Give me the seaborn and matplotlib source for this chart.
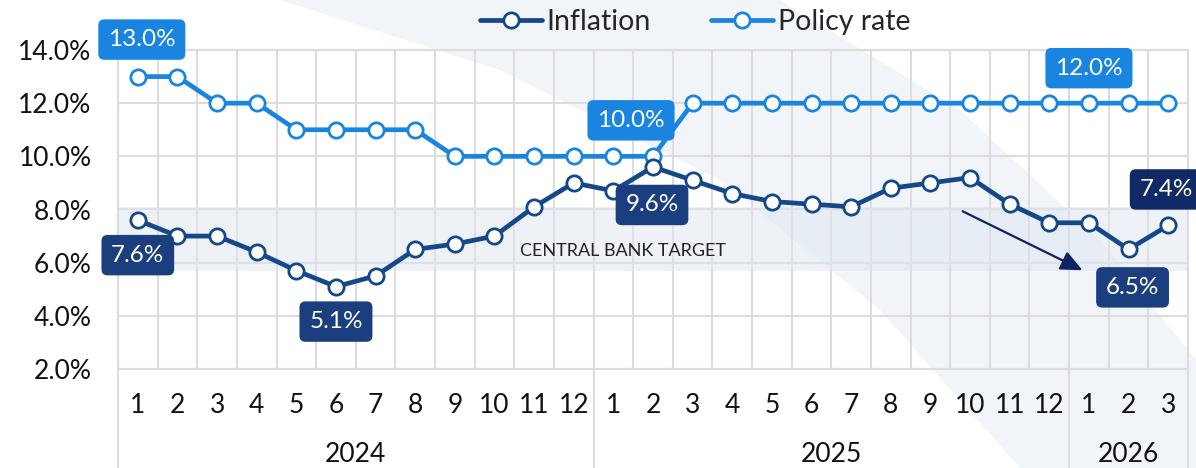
import matplotlib
matplotlib.use("Agg")
import matplotlib.pyplot as plt
from matplotlib.lines import Line2D
from matplotlib.patches import Polygon
import numpy as np
import pandas as pd
import seaborn as sns


MONTHS = [str(m) for m in range(1, 13)] + [str(m) for m in range(1, 13)] + ["1", "2", "3"]
YEARS = ["2024", "2025", "2026"]
YEAR_SPANS = [(0, 11), (12, 23), (24, 26)]

INFLATION = [7.6, 7.0, 7.0, 6.4, 5.7, 5.1, 5.5, 6.5, 6.7, 7.0, 8.1, 9.0,
             8.7, 9.6, 9.1, 8.6, 8.3, 8.2, 8.1, 8.8, 9.0, 9.2, 8.2, 7.5,
             7.5, 6.5, 7.4]
POLICY_RATE = [13.0, 13.0, 12.0, 12.0, 11.0, 11.0, 11.0, 11.0, 10.0, 10.0, 10.0, 10.0,
               10.0, 10.0, 12.0, 12.0, 12.0, 12.0, 12.0, 12.0, 12.0, 12.0, 12.0, 12.0,
               12.0, 12.0, 12.0]

TARGET_LOW, TARGET_HIGH = 5.7, 8.1

# (index, dx px, dy px, box colour)
INFL_LABELS = [(0, 0, -35, "#1b3f7e"), (5, 0, -35, "#1b3f7e"), (13, -1, -38, "#1b3f7e"),
               (25, 4, -38, "#1b3f7e"), (26, -2, 36, "#0f2a66")]
RATE_LABELS = [(0, 4, 37, "#1a85e0"), (13, -22, 36, "#1a85e0"), (24, 0, 35, "#1a85e0")]

C_INFL = "#14488a"
C_RATE = "#1a85e0"
GRID = "#dcdcdc"
FONT = ["Lato", "DejaVu Sans"]


def main():
    sns.set_theme(style="white")
    plt.rcParams["font.family"] = FONT

    df = pd.DataFrame({"idx": np.arange(len(MONTHS)),
                       "Inflation": INFLATION,
                       "Policy rate": POLICY_RATE})

    fig = plt.figure(figsize=(11.96, 4.68), dpi=100)
    fig.patch.set_facecolor("white")

    # soft background swoosh
    sw = [(280, 0), (780, 0), (960, 110), (1100, 240), (1196, 360), (1196, 468),
          (1020, 468), (880, 310), (720, 180), (500, 70)]
    fig.patches.append(Polygon([(x / 1196, 1 - y / 468) for x, y in sw], closed=True,
                               transform=fig.transFigure, fc="#f1f5f9", ec="none", zorder=-5))

    ax = fig.add_axes([118 / 1196, 1 - 369 / 468, 1070 / 1196, 319 / 468])
    ax.set_facecolor("none")

    ax.set_xlim(-0.5, len(MONTHS) - 0.5)
    ax.set_ylim(2, 14)
    ax.set_yticks(np.arange(2, 15, 2))
    ax.set_yticklabels([f"{v:.1f}%" for v in np.arange(2, 15, 2)])
    ax.set_xticks(df["idx"])
    ax.set_xticklabels(MONTHS)
    ax.set_xticks(np.arange(-0.5, len(MONTHS), 1), minor=True)
    ax.tick_params(axis="both", which="both", length=0)
    ax.tick_params(axis="y", labelsize=19, pad=19, labelcolor="#111111")
    ax.tick_params(axis="x", labelsize=19, pad=17, labelcolor="#111111")

    ax.grid(True, which="major", axis="y", color=GRID, lw=1.5, zorder=0)
    ax.grid(True, which="minor", axis="x", color=GRID, lw=1.5, zorder=0)
    for s in ax.spines.values():
        s.set_color(GRID)
        s.set_linewidth(1.5)

    ax.axhspan(TARGET_LOW, TARGET_HIGH, color="#dfe7f1", alpha=0.5, lw=0, zorder=1)
    ax.text(12.25, 6.45, "CENTRAL BANK TARGET", fontsize=13, color="#222222",
            ha="center", va="center", zorder=2)

    # year separators below the axis
    for x in [-0.5, 11.5, 23.5, 26.5]:
        ax.axvline(x, ymin=-0.31, ymax=0, color=GRID, lw=1.5, clip_on=False)
    for year, (a, b) in zip(YEARS, YEAR_SPANS):
        ax.annotate(year, xy=((a + b) / 2, 0), xycoords=("data", "axes fraction"),
                    xytext=(0, -86 * 0.72), textcoords="offset points",
                    ha="center", va="center", fontsize=19, color="#111111",
                    annotation_clip=False)

    style = dict(marker="o", markersize=11, markerfacecolor="white",
                 markeredgewidth=2, lw=3.4, zorder=4)
    sns.lineplot(data=df, x="idx", y="Policy rate", ax=ax, color=C_RATE,
                 markeredgecolor=C_RATE, **style)
    sns.lineplot(data=df, x="idx", y="Inflation", ax=ax, color=C_INFL,
                 markeredgecolor=C_INFL, **style)
    ax.set_xlabel("")
    ax.set_ylabel("")

    def label(vals, items):
        for i, dx, dy, fc in items:
            ax.annotate(f"{vals[i]:.1f}%", xy=(i, vals[i]), xytext=(dx * 0.72, dy * 0.72),
                        textcoords="offset points", ha="center", va="center",
                        fontsize=17.5, color="white", zorder=6, annotation_clip=False,
                        bbox=dict(boxstyle="round,pad=0.4,rounding_size=0.25",
                                  fc=fc, ec="none"))

    label(INFLATION, INFL_LABELS)
    label(POLICY_RATE, RATE_LABELS)

    ax.annotate("", xy=(23.9, 5.67), xytext=(20.75, 7.98),
                arrowprops=dict(arrowstyle="-|>,head_length=1.1,head_width=0.5",
                                color="#0d2366", lw=1.6), zorder=5)

    handles = [Line2D([], [], color=c, marker="o", markersize=11, markerfacecolor="white",
                      markeredgecolor=c, markeredgewidth=2, lw=3.4)
               for c in (C_INFL, C_RATE)]
    fig.legend(handles, ["Inflation", "Policy rate"], loc="center",
               bbox_to_anchor=(695 / 1196, 1 - 22 / 468), ncol=2, frameon=False,
               fontsize=20.5, handlelength=2.2, handletextpad=0.15, columnspacing=2.1)

    fig.savefig("out.png", dpi=100)


if __name__ == "__main__":
    main()
